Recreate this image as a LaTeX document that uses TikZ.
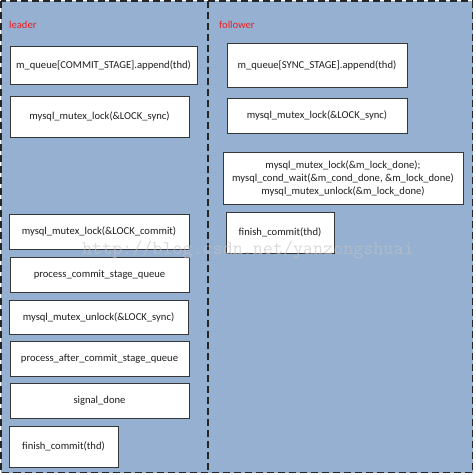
\documentclass[tikz,border=0pt]{standalone}
\usepackage{fontspec}
\setmainfont{Carlito}
\definecolor{panel}{RGB}{149,176,208}
\definecolor{edge}{RGB}{55,55,55}
\definecolor{labelred}{RGB}{235,30,35}
\definecolor{wmgray}{RGB}{195,195,198}
\begin{document}
\begin{tikzpicture}[x=1pt,y=-1pt,
  box/.style={draw=edge, line width=0.9pt, fill=white, inner sep=0pt, align=center,
    text=black!88, font=\fontsize{10.6}{13}\selectfont},
  lane/.style={text=labelred, anchor=west, inner sep=0pt, font=\fontsize{10.6}{13}\selectfont},
  frame/.style={draw=black!85, line width=1.2pt, dash pattern=on 7pt off 4pt}]
\useasboundingbox[fill=white] (0,0) rectangle (476,474);
\fill[panel] (1,1) rectangle (472.5,472.5);
\draw[frame] (1,1) rectangle (472.5,472.5);
\coordinate (dtop) at (208,1);
\coordinate (dbot) at (208,472.5);
\draw[frame] (dtop) -- (dbot);
\node[lane] (leader) at (9,25) {leader};
\node[lane] (follower) at (219,25) {follower};
% leader column
\node[box, minimum width=187pt, minimum height=38pt] (l1) at (103.5,65) {m\_queue[COMMIT\_STAGE].append(thd)};
\node[box, minimum width=179pt, minimum height=41pt] (l2) at (99.5,116.5) {mysql\_mutex\_lock(\&LOCK\_sync)};
\node[box, minimum width=180pt, minimum height=35pt] (l3) at (99,231.5) {mysql\_mutex\_lock(\&LOCK\_commit)};
\node[box, minimum width=179pt, minimum height=35pt] (l4) at (99.5,274.5) {process\_commit\_stage\_queue};
\node[box, minimum width=179pt, minimum height=34pt] (l5) at (98.5,317) {mysql\_mutex\_unlock(\&LOCK\_sync)};
\node[box, minimum width=179pt, minimum height=35pt] (l6) at (99.5,358.5) {process\_after\_commit\_stage\_queue};
\node[box, minimum width=179pt, minimum height=35pt] (l7) at (99.5,400.5) {signal\_done};
\node[box, minimum width=109pt, minimum height=41pt] (l8) at (63.5,446.5) {finish\_commit(thd)};
% follower column
\node[box, minimum width=180pt, minimum height=44pt] (f1) at (317,65) {m\_queue[SYNC\_STAGE].append(thd)};
\node[box, minimum width=180pt, minimum height=35pt] (f2) at (317,115.5) {mysql\_mutex\_lock(\&LOCK\_sync)};
\node[box, minimum width=240pt, minimum height=52pt] (f3) at (343,178) {mysql\_mutex\_lock(\&m\_lock\_done);\\mysql\_cond\_wait(\&m\_cond\_done, \&m\_lock\_done)\\mysql\_mutex\_unlock(\&m\_lock\_done)};
\node[box, minimum width=108pt, minimum height=41pt] (f4) at (280,232.5) {finish\_commit(thd)};
% watermark
\node[anchor=west, inner sep=0pt, text=wmgray, opacity=0.6, font=\ttfamily\fontsize{19.5}{19.5}\selectfont] (wm) at (82,250) {http://blog.csdn.net/yanzongshuai};
\end{tikzpicture}
\end{document}
